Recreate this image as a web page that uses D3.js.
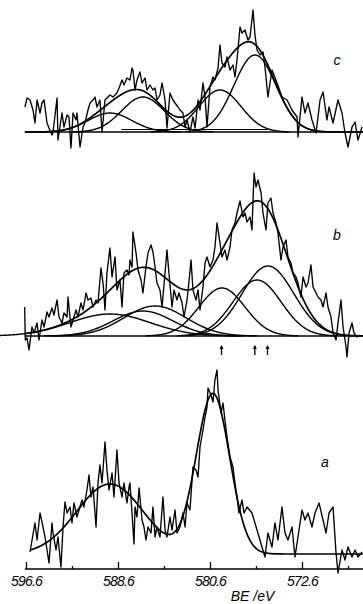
<!DOCTYPE html>
<html>
<head>
<meta charset="utf-8">
<script src="https://cdn.jsdelivr.net/npm/d3@7"></script>
<style>
body { margin: 0; background: #fff; }
svg { display: block; }
.trace { fill: none; stroke: #000; stroke-width: 1.35; stroke-linejoin: round; }
.fit { fill: none; stroke: #000; stroke-width: 1.4; }
.base { stroke: #000; stroke-width: 1.6; }
text { font-family: "Liberation Sans", Arial, sans-serif; font-style: italic; fill: #000; }
</style>
</head>
<body>
<svg width="363" height="604"></svg>
<script>
// spectra: [BE (eV), intensity (arb.)]
var dataC = [
  [596.69,25],[596.51,34],[596.25,32],[595.99,22],[595.82,9],[595.64,32],[595.38,19],[595.21,29],[595.03,32],[594.77,9],
  [594.60,4],[594.34,-3],[594.25,0],[593.90,34],[593.82,-8],[593.47,19],[593.30,5],[593.03,17],[592.86,15],[592.69,-16],
  [592.51,19],[592.25,12],[592.17,19],[591.90,-15],[591.64,5],[591.47,9],[591.21,22],[591.03,29],[590.77,32],[590.60,35],
  [590.43,25],[590.17,32],[589.99,0],[589.73,32],[589.56,34],[589.30,37],[589.03,35],[588.69,39],[588.51,44],[588.25,52],
  [588.08,47],[587.82,54],[587.56,52],[587.38,64],[587.30,62],[587.12,42],[586.95,52],[586.69,60],[586.51,49],[586.25,54],
  [586.08,42],[585.82,47],[585.56,42],[585.38,44],[585.21,32],[584.95,37],[584.77,49],[584.51,32],[584.34,4],[584.08,39],
  [583.82,32],[583.64,29],[583.38,25],[583.21,22],[582.95,19],[582.77,5],[582.60,12],[582.34,0],[582.08,15],[581.90,4],
  [581.64,32],[581.47,22],[581.21,49],[581.03,35],[580.86,5],[580.60,45],[580.34,55],[580.17,52],[579.90,64],[579.73,87],
  [579.56,69],[579.30,65],[579.12,75],[578.86,62],[578.60,67],[578.43,55],[578.25,72],[577.99,105],[577.82,99],[577.56,102],
  [577.30,92],[577.12,95],[576.86,122],[576.69,97],[576.51,82],[576.25,77],[575.99,80],[575.82,65],[575.56,35],[575.21,62],
  [574.77,49],[574.34,35],[573.90,32],[573.47,22],[573.03,15],[572.95,-5],[572.60,35],[572.34,19],[572.08,29],[571.73,12],
  [571.38,-1],[571.03,32],[570.77,40],[570.43,12],[570.25,25],[569.90,9],[569.47,32],[569.12,19],[568.86,-1],[568.60,-15],
  [568.25,5],[567.99,10],[567.73,-8],[567.38,5]
];
var dataB = [
  [596.72,29],[596.66,-4],[596.51,-2],[596.34,-14],[596.08,9],[595.90,3],[595.64,13],[595.47,-4],[595.21,16],[595.03,9],
  [594.77,24],[594.60,19],[594.34,28],[594.17,21],[593.90,36],[593.73,19],[593.47,13],[593.30,23],[593.03,19],[592.95,39],
  [592.69,9],[592.51,16],[592.25,26],[592.08,19],[591.82,33],[591.64,26],[591.38,43],[591.21,36],[590.95,38],[590.77,29],
  [590.51,36],[590.34,33],[590.08,68],[589.90,53],[589.73,26],[589.56,63],[589.30,88],[589.12,59],[588.86,79],[588.69,46],
  [588.43,56],[588.25,29],[588.08,63],[587.82,66],[587.64,61],[587.56,76],[587.38,69],[587.30,104],[587.03,83],[586.86,66],
  [586.60,56],[586.43,43],[586.17,69],[585.99,83],[585.73,91],[585.56,84],[585.38,69],[585.21,53],[584.95,46],[584.77,29],
  [584.51,63],[584.34,86],[584.17,63],[583.90,29],[583.73,46],[583.47,36],[583.30,43],[583.03,33],[582.86,19],[582.60,36],
  [582.43,54],[582.25,76],[582.08,46],[581.82,36],[581.64,46],[581.47,26],[581.21,49],[581.03,73],[580.86,79],[580.60,69],
  [580.34,76],[580.17,89],[579.99,113],[579.73,93],[579.56,79],[579.30,86],[579.12,76],[578.86,89],[578.69,106],[578.43,113],
  [578.25,123],[577.99,135],[577.73,119],[577.56,123],[577.38,114],[577.12,119],[576.95,106],[576.77,163],[576.60,149],[576.43,156],
  [576.16,143],[575.99,123],[575.73,106],[575.56,133],[575.30,138],[575.12,123],[574.86,113],[574.69,103],[574.43,76],[574.25,89],
  [573.99,96],[573.82,79],[573.56,73],[573.38,63],[573.12,59],[572.95,53],[572.69,39],[572.51,59],[572.25,49],[572.08,53],
  [571.82,71],[571.64,49],[571.38,43],[571.21,39],[570.95,36],[570.77,29],[570.51,43],[570.34,29],[570.08,19],[569.90,3],
  [569.64,-4],[569.47,13],[569.21,36],[569.03,9],[568.77,-11],[568.69,-21],[568.51,3],[568.25,13],[568.08,3],[567.82,-1],
  [567.56,1]
];
var dataA = [
  [596.25,2],[595.82,31],[595.64,14],[595.38,41],[595.12,27],[594.95,17],[594.77,4],[594.60,-9],[594.34,31],[594.25,21],
  [593.99,4],[593.82,17],[593.56,-13],[593.38,27],[593.21,52],[593.03,41],[592.77,47],[592.60,31],[592.43,51],[592.17,37],
  [591.99,44],[591.73,54],[591.56,47],[591.30,64],[591.12,79],[590.95,57],[590.77,67],[590.51,27],[590.34,71],[590.17,89],
  [589.99,71],[589.73,112],[589.56,84],[589.38,64],[589.12,81],[588.95,57],[588.69,104],[588.51,71],[588.25,57],[588.08,71],
  [587.82,51],[587.64,67],[587.56,71],[587.38,41],[587.21,10],[587.12,47],[586.95,37],[586.77,66],[586.51,34],[586.34,27],
  [586.17,14],[585.99,27],[585.73,21],[585.56,47],[585.38,17],[585.21,27],[584.95,17],[584.69,57],[584.51,24],[584.34,17],
  [584.08,37],[583.90,24],[583.64,44],[583.47,21],[583.21,27],[582.95,41],[582.77,27],[582.60,51],[582.34,44],[582.16,74],
  [582.08,87],[581.82,84],[581.64,77],[581.47,107],[581.21,124],[581.03,137],[580.86,147],[580.77,166],[580.51,159],[580.34,152],
  [580.17,174],[579.99,184],[579.90,164],[579.64,141],[579.47,151],[579.30,134],[579.12,117],[578.86,97],[578.60,87],[578.43,71],
  [578.25,57],[578.08,41],[577.82,54],[577.64,41],[577.38,47],[576.95,41],[576.51,24],[576.08,7],[575.82,-3],[575.56,21],
  [575.21,7],[574.95,31],[574.69,14],[574.34,47],[574.08,21],[573.82,14],[573.47,27],[573.21,-3],[572.95,17],[572.60,44],
  [572.34,34],[572.08,41],[571.73,27],[571.47,41],[571.12,51],[570.77,34],[570.51,21],[570.25,41],[569.90,47],[569.64,1],
  [569.47,-19],[569.12,4],[568.86,-6],[568.60,7],[568.25,-3],[567.99,4],[567.73,-3],[567.38,2]
];

// fitted gaussian components: [centre BE, height, sigma]
var compsC = [[589.3,19,1.9],[586.43,35,1.85],[579.73,42,1.83],[576.69,77,1.83]];
var compsB = [[589.3,22,3.5],[586.43,25,2.6],[585.38,30,2.7],[579.56,48,2.0],[576.51,56,2.1],[575.56,70,2.25]];
var compsA = [[589.3,70,2.9],[580.34,160,1.45]];

var arrowsB = [579.6, 576.7, 575.6];
var majorTicks = [596.6, 588.6, 580.6, 572.6];
var minorTicks = [592.6, 584.6, 576.6, 568.6];
var axisTitle = "BE /eV";

var svg = d3.select("svg");

var x = d3.scaleLinear().domain([596.6, 572.6]).range([26, 302]);

function gauss(be, c) {
  var t = (be - c[0]) / c[2];
  return c[1] * Math.exp(-0.5 * t * t);
}
function envelope(comps, from) {
  return d3.range(from, 567.3, -0.05).map(function(be) {
    return [be, d3.sum(comps, function(c) { return gauss(be, c); })];
  });
}
function component(c) {
  return d3.range(c[0] + 3.3 * c[2], c[0] - 3.3 * c[2], -0.05).map(function(be) {
    return [be, gauss(be, c)];
  });
}

var panels = [
  { data: dataC, comps: compsC, base: 132, showComps: true, baseline: true, label: "c", lx: 337, ly: 65, start: 596.7 },
  { data: dataB, comps: compsB, base: 336, showComps: true, baseline: true, label: "b", lx: 337, ly: 240, start: 596.7 },
  { data: dataA, comps: compsA, base: 554, showComps: false, baseline: false, label: "a", lx: 325, ly: 467, start: 596.25 }
];

panels.forEach(function(p) {
  var y = d3.scaleLinear().domain([0, 100]).range([p.base, p.base - 100]);
  var line = d3.line().x(function(d) { return x(d[0]); }).y(function(d) { return y(d[1]); });
  var g = svg.append("g");

  if (p.baseline) {
    g.append("line").attr("class", "base")
      .attr("x1", x(596.7)).attr("x2", x(567.3))
      .attr("y1", y(0)).attr("y2", y(0));
  }
  if (p.label === "c") {
    // short background segment under the fitted components
    g.append("line").attr("stroke", "#000").attr("stroke-width", 1.2)
      .attr("x1", x(588.3)).attr("x2", x(575.6))
      .attr("y1", y(2.5)).attr("y2", y(2.5));
  }
  if (p.showComps) {
    g.selectAll("path.comp").data(p.comps).enter().append("path")
      .attr("class", "fit comp")
      .attr("d", function(c) { return line(component(c)); });
  }
  g.append("path").attr("class", "trace").attr("d", line(p.data));
  g.append("path").attr("class", "fit").style("stroke-width", 1.7)
    .attr("d", line(envelope(p.comps, p.start)));

  g.append("text").attr("x", p.lx).attr("y", p.ly)
    .attr("text-anchor", "middle").style("font-size", "14px").text(p.label);

  if (p.label === "b") {
    var ar = g.selectAll("g.arrow").data(arrowsB).enter().append("g")
      .attr("transform", function(d) { return "translate(" + x(d) + "," + (p.base + 19) + ")"; });
    ar.append("line").attr("y1", 0).attr("y2", -9).attr("stroke", "#000").attr("stroke-width", 1.3);
    ar.append("path").attr("d", "M-2,-6 L0,-10 L2,-6 Z").attr("fill", "#000");
  }
});

// axis
var axisY = 569;
var gAxis = svg.append("g").attr("transform", "translate(0," + axisY + ")");
gAxis.append("line").attr("class", "base").style("stroke-width", 1.4)
  .attr("x1", x(596.7)).attr("x2", x(567.3)).attr("y1", 0).attr("y2", 0);

var gMaj = gAxis.append("g").call(d3.axisBottom(x).tickValues(majorTicks)
  .tickSizeInner(-7).tickSizeOuter(0).tickPadding(7).tickFormat(d3.format(".1f")));
var gMin = gAxis.append("g").call(d3.axisBottom(x).tickValues(minorTicks)
  .tickSizeInner(-3).tickSizeOuter(0).tickFormat(""));
gAxis.selectAll(".domain").remove();
gAxis.selectAll(".tick line").attr("stroke", "#000").attr("stroke-width", 1.3);
gMaj.selectAll(".tick text")
  .style("font-family", "'Liberation Sans', Arial, sans-serif")
  .style("font-style", "italic").style("font-size", "14px")
  .style("letter-spacing", "-0.8px");

svg.append("text").attr("x", x(576.9)).attr("y", 601)
  .attr("text-anchor", "middle").style("font-size", "14px").text(axisTitle);
</script>
</body>
</html>
